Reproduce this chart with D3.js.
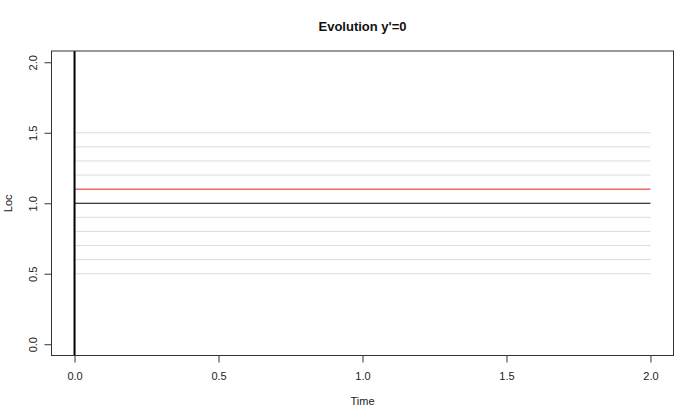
<!DOCTYPE html>
<html>
<head>
<meta charset="utf-8">
<script src="https://cdn.jsdelivr.net/npm/d3@7"></script>
<style>
  body { margin: 0; background: #fff; }
  svg { display: block; font-family: "Liberation Sans", Arial, sans-serif; }
</style>
</head>
<body>
<svg id="chart" width="700" height="420"></svg>
<script>
// ---- data ----
const title = "Evolution y'=0";
const xLabel = "Time";
const yLabel = "Loc";
const timeDomain = [0, 2];
const locDomain = [0, 2];
const xTicks = [0, 0.5, 1.0, 1.5, 2.0];
const yTicks = [0, 0.5, 1.0, 1.5, 2.0];
const greyLevels = [0.5, 0.6, 0.7, 0.8, 0.9, 1.2, 1.3, 1.4, 1.5];
const blackLevel = [1.0];
const redLevel = [1.1];
const lineStart = 0;
const lineEnd = 2;
const verticalAt = [0];

// ---- layout ----
const svg = d3.select("#chart");
const mLeft = 51.5, mRight = 673.5, mTop = 51, mBottom = 355.5;
const ext = 0.04;
const xs = d3.scaleLinear()
  .domain([timeDomain[0] - ext * (timeDomain[1] - timeDomain[0]), timeDomain[1] + ext * (timeDomain[1] - timeDomain[0])])
  .range([mLeft, mRight]);
const ys = d3.scaleLinear()
  .domain([locDomain[0] - ext * (locDomain[1] - locDomain[0]), locDomain[1] + ext * (locDomain[1] - locDomain[0])])
  .range([mBottom, mTop]);

// grey lines
svg.append("g").selectAll("line").data(greyLevels).join("line")
  .attr("x1", xs(lineStart)).attr("x2", xs(lineEnd))
  .attr("y1", d => ys(d)).attr("y2", d => ys(d))
  .attr("stroke", "#dcdcdc").attr("stroke-width", 1);

svg.append("g").selectAll("line").data(redLevel).join("line")
  .attr("x1", xs(lineStart)).attr("x2", xs(lineEnd))
  .attr("y1", d => ys(d)).attr("y2", d => ys(d))
  .attr("stroke", "#e02020").attr("stroke-width", 1);

svg.append("g").selectAll("line").data(blackLevel).join("line")
  .attr("x1", xs(lineStart)).attr("x2", xs(lineEnd))
  .attr("y1", d => ys(d)).attr("y2", d => ys(d))
  .attr("stroke", "#000").attr("stroke-width", 1);

// vertical line at x=0
svg.append("g").selectAll("line").data(verticalAt).join("line")
  .attr("x1", d => xs(d)).attr("x2", d => xs(d))
  .attr("y1", mTop).attr("y2", mBottom)
  .attr("stroke", "#000").attr("stroke-width", 2);

// box
svg.append("rect")
  .attr("x", mLeft).attr("y", mTop)
  .attr("width", mRight - mLeft).attr("height", mBottom - mTop)
  .attr("fill", "none").attr("stroke", "#333").attr("stroke-width", 1);

// x axis
const xAxis = svg.append("g").attr("transform", `translate(0,${mBottom})`)
  .call(d3.axisBottom(xs).tickValues(xTicks).tickFormat(d3.format(".1f")).tickSize(7).tickPadding(10));
xAxis.select(".domain").attr("d", `M${xs(xTicks[0])},0H${xs(xTicks[xTicks.length-1])}`).attr("stroke", "#333");
xAxis.selectAll(".tick line").attr("stroke", "#333");
xAxis.selectAll("text").attr("font-size", 11).attr("fill", "#222")
  .attr("font-family", "Liberation Sans, Arial, sans-serif");

// y axis
const yAxis = svg.append("g").attr("transform", `translate(${mLeft},0)`)
  .call(d3.axisLeft(ys).tickValues(yTicks).tickFormat(d3.format(".1f")).tickSize(7));
yAxis.select(".domain").attr("d", `M0,${ys(yTicks[0])}V${ys(yTicks[yTicks.length-1])}`).attr("stroke", "#333");
yAxis.selectAll(".tick line").attr("stroke", "#333");
yAxis.selectAll(".tick text")
  .attr("x", null).attr("dy", null)
  .attr("transform", "translate(-18.5,0) rotate(-90)")
  .attr("text-anchor", "middle")
  .attr("dominant-baseline", "central")
  .attr("font-size", 11).attr("fill", "#222")
  .attr("font-family", "Liberation Sans, Arial, sans-serif");

// title
svg.append("text")
  .attr("x", (mLeft + mRight) / 2).attr("y", 31)
  .attr("text-anchor", "middle")
  .attr("font-size", 13).attr("font-weight", "bold").attr("fill", "#111")
  .text(title);

// axis titles
svg.append("text")
  .attr("x", (mLeft + mRight) / 2).attr("y", 405)
  .attr("text-anchor", "middle")
  .attr("font-size", 11).attr("fill", "#222")
  .text(xLabel);

svg.append("text")
  .attr("transform", `translate(12,${(mTop + mBottom) / 2}) rotate(-90)`)
  .attr("text-anchor", "middle")
  .attr("font-size", 11).attr("fill", "#222")
  .text(yLabel);
</script>
</body>
</html>
